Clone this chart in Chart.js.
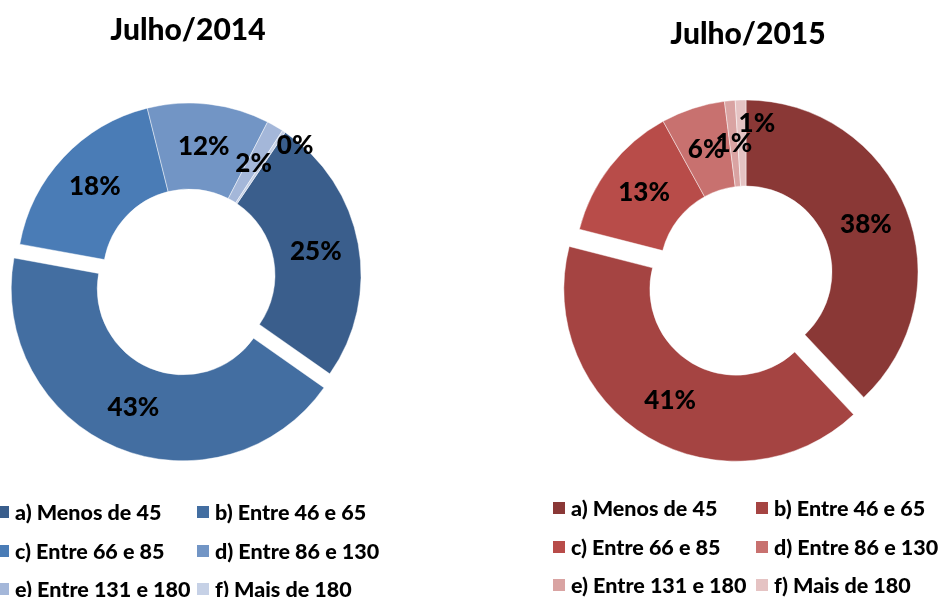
<!DOCTYPE html>
<html>
<head>
<meta charset="utf-8">
<script src="https://cdn.jsdelivr.net/npm/chart.js@4.4.1/dist/chart.umd.min.js"></script>
<style>
    html, body { margin: 0; padding: 0; background: #fff; }
    #page { position: relative; width: 940px; height: 597px; overflow: hidden; font-family: 'Lato', 'Open Sans', sans-serif; }
    canvas { position: absolute; top: 0; }
    .titulo { position: absolute; font-weight: 900; font-size: 30px; color: #000; text-align: center; width: 300px; }
    .legenda { position: absolute; font-weight: 900; font-size: 21.5px; color: #000; }
    .item { position: absolute; white-space: nowrap; display: flex; align-items: center; height: 24px; }
    .item i { display: inline-block; width: 12px; height: 12px; margin-right: 6px; }
</style>
</head>
<body>
<div id="page">
    <canvas id="donut-2014" width="470" height="597" style="left:0"></canvas>
    <canvas id="donut-2015" width="470" height="597" style="left:470px"></canvas>
    <div class="titulo" style="left:38px; top:10px">Julho/2014</div>
    <div class="titulo" style="left:598px; top:14px">Julho/2015</div>
    <div class="legenda" id="leg-2014" style="left:-3px; top:500px"></div>
    <div class="legenda" id="leg-2015" style="left:553px; top:496px"></div>
</div>
<script>
// Faixas (categorias)
const faixas = [
    'a) Menos de 45',
    'b) Entre 46 e 65',
    'c) Entre 66 e 85',
    'd) Entre 86 e 130',
    'e) Entre 131 e 180',
    'f) Mais de 180',
];

// Percentuais por faixa
const valores2014 = [25.4, 43.3, 18.3, 11.5, 1.6, 0.3];
const valores2015 = [38, 41, 13, 6, 1, 1];

const coresAzul = ['#3A5E8C', '#436EA1', '#4A7CB6', '#7295C5', '#A4B7D9', '#C6D1E6'];
const coresVermelho = ['#8A3836', '#A54442', '#B84C49', '#C8716F', '#D9A3A2', '#E5C3C3'];

// Fatia destacada (b) deslocada para fora, como no Excel
const Arc = Chart.ArcElement || Chart.elements.ArcElement;
const baseArcDraw = Arc.prototype.draw;
Arc.prototype.draw = function (ctx, area) {
    const c = this.$context;
    const shift = c && c.dataset && c.dataset.explode ? (c.dataset.explode[c.dataIndex] || 0) : 0;
    if (!shift) return baseArcDraw.call(this, ctx, area);
    const mid = (this.startAngle + this.endAngle) / 2;
    ctx.save();
    ctx.translate(Math.cos(mid) * shift, Math.sin(mid) * shift);
    baseArcDraw.call(this, ctx, area);
    ctx.restore();
};

// Rótulos de percentual no meio do anel
const rotulosPlugin = {
    id: 'rotulos',
    afterDatasetsDraw(chart, args, opts) {
        const ds = chart.data.datasets[0];
        const meta = chart.getDatasetMeta(0);
        const c = chart.ctx;
        c.save();
        c.font = "900 26px 'Lato', sans-serif";
        c.fillStyle = '#000';
        c.textAlign = 'center';
        c.textBaseline = 'middle';
        meta.data.forEach((arc, i) => {
            const p = arc.getProps(['x', 'y', 'startAngle', 'endAngle', 'innerRadius', 'outerRadius'], true);
            let mid = (p.startAngle + p.endAngle) / 2;
            let r = (p.innerRadius + p.outerRadius) / 2 + (ds.explode[i] || 0);
            if (opts.ajuste && opts.ajuste.index === i) {
                mid += opts.ajuste.angulo * Math.PI / 180;
                r += opts.ajuste.raio;
            }
            c.fillText(`${Math.round(ds.data[i])}%`, p.x + Math.cos(mid) * r, p.y + Math.sin(mid) * r);
        });
        c.restore();
    },
};

function criarDonut(id, valores, cores, rotacao, destaque, padding, ajuste) {
    return new Chart(document.getElementById(id), {
        type: 'doughnut',
        data: {
            labels: faixas,
            datasets: [{
                data: valores,
                backgroundColor: cores,
                borderColor: 'rgba(255,255,255,0.45)',
                borderWidth: 1,
                explode: faixas.map((f, i) => (i === 1 ? destaque : 0)),
            }],
        },
        options: {
            responsive: false,
            animation: false,
            events: [],
            rotation: rotacao,
            radius: 172,
            cutout: '50%',
            layout: { padding: padding },
            plugins: {
                legend: { display: false },
                tooltip: { enabled: false },
                rotulos: { ajuste },
            },
        },
        plugins: [rotulosPlugin],
    });
}

function legendaHtml(elId, cores, passo) {
    const el = document.getElementById(elId);
    faixas.forEach((f, i) => {
        const d = document.createElement('div');
        d.className = 'item';
        d.style.left = (i % 2) * passo + 'px';
        d.style.top = Math.floor(i / 2) * 38.5 + 'px';
        d.innerHTML = `<i style="background:${cores[i]}"></i>${f}`;
        el.appendChild(d);
    });
}

criarDonut('donut-2014', valores2014, coresAzul, 34, 15,
    { left: 0, right: 92, top: 0, bottom: 47 }, { index: 5, angulo: 6, raio: 38 });
criarDonut('donut-2015', valores2015, coresVermelho, 0, 20,
    { left: 82, right: 0, top: 0, bottom: 53 }, { index: 5, angulo: 6, raio: 20 });

legendaHtml('leg-2014', coresAzul, 200);
legendaHtml('leg-2015', coresVermelho, 203);
</script>
</body>
</html>
